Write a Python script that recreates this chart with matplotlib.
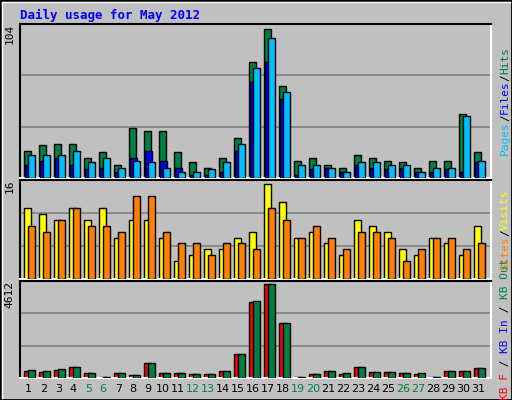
import matplotlib
matplotlib.use("Agg")
import matplotlib.pyplot as plt
from matplotlib.patches import Rectangle
from matplotlib.lines import Line2D

days = list(range(1, 32))
hits = [19,23,24,24,14,18,9,35,33,33,18,11,7,14,28,81,104,64,12,14,9,7,16,14,12,11,7,12,12,45,18]
files = [9,12,14,9,6,7,4,14,19,12,7,2,2,4,19,67,81,55,2,6,7,4,9,7,6,7,4,4,6,4,11]
pages = [16,16,16,19,11,14,7,12,11,7,4,4,6,11,24,77,98,60,9,9,7,4,11,11,9,9,4,7,7,43,12]
visits = [12,11,10,12,10,12,7,10,10,7,3,4,5,5,7,8,16,13,7,8,6,4,10,9,8,5,4,7,6,4,9]
sites = [9,8,10,12,9,9,8,14,14,8,6,6,4,6,6,5,12,10,7,9,7,5,8,8,7,3,5,7,7,5,6]
kb_f = [336,302,386,537,235,67,235,134,738,235,235,184,184,336,1190,3707,4612,2700,67,184,336,184,537,302,302,235,184,67,336,336,487]
kb_out = [386,336,436,537,235,67,235,134,738,235,235,184,184,336,1190,3757,4612,2700,67,184,336,235,537,302,302,235,235,67,336,336,487]
weekend = {5,6,12,13,19,20,26,27}

W, H = 512, 400
fig = plt.figure(figsize=(W/100, H/100), dpi=100)
fig.patch.set_facecolor("#C0C0C0")
BG = "#C0C0C0"
mono = "DejaVu Sans Mono"

fig.add_artist(Rectangle((0, 0), 1, 1, transform=fig.transFigure, fill=False, edgecolor="black", lw=2))
fig.add_artist(Line2D([2/W, 2/W, 1-2/W], [2/H, 1-2/H, 1-2/H], transform=fig.transFigure, color="white", lw=1))

def mkax(top, bot, ymax):
    ax = fig.add_axes([20/W, 1-bot/H, 471/W, (bot-top)/H])
    ax.set_facecolor(BG)
    ax.set_xlim(0.45, 31.85)
    ax.set_ylim(0, ymax)
    for y in (ymax/3, 2*ymax/3):
        ax.axhline(y, color="#808080", lw=1.2, zorder=0)
    ax.set_xticks([]); ax.set_yticks([])
    for s in ("left", "top"):
        ax.spines[s].set_color("black"); ax.spines[s].set_linewidth(1.5)
    for s in ("right", "bottom"):
        ax.spines[s].set_color("white"); ax.spines[s].set_linewidth(1.5)
    return ax

ax1 = mkax(24, 178, 107.5)
ax1.bar([d-0.31 for d in days], hits, width=0.5, align="edge", color="#008040", edgecolor="black", lw=1, zorder=2)
ax1.bar([d-0.22 for d in days], files, width=0.5, align="edge", color="#0000FF", edgecolor="black", lw=1, zorder=3)
ax1.bar([d-0.04 for d in days], pages, width=0.5, align="edge", color="#00C0FF", edgecolor="black", lw=1, zorder=4)

ax2 = mkax(180, 279, 16.7)
ax2.bar([d-0.31 for d in days], visits, width=0.5, align="edge", color="#FFFF00", edgecolor="black", lw=1, zorder=2)
ax2.bar([d-0.04 for d in days], sites, width=0.5, align="edge", color="#FF8000", edgecolor="black", lw=1, zorder=3)

ax3 = mkax(281, 378, 4760)
ax3.bar([d-0.31 for d in days], kb_f, width=0.5, align="edge", color="#FF0000", edgecolor="black", lw=1, zorder=2)
ax3.bar([d-0.04 for d in days], kb_out, width=0.5, align="edge", color="#008040", edgecolor="black", lw=1, zorder=3)

fig.text(20/W, 1-15/H, "Daily usage for May 2012", family=mono, weight="bold", color="#0000FF", fontsize=9, va="center")

for ax, lab in ((ax1, "104"), (ax2, "16"), (ax3, "4612")):
    ax.text(-0.012, 1.0, lab, transform=ax.transAxes, rotation=90, family=mono, fontsize=8, ha="right", va="top")

for d in days:
    ax3.text(d, -0.06, str(d), transform=ax3.get_xaxis_transform(), ha="center", va="top",
             fontsize=8, color="#008040" if d in weekend else "black")

cpx = 8*0.602*100/72
def vlabel(top, bot, pieces):
    total = sum(len(t) for t, c in pieces) * cpx
    y = (top+bot)/2 + total/2
    for t, c in pieces:
        fig.text(505/W, 1-y/H, t, rotation=90, family=mono, fontsize=8, color=c, ha="center", va="bottom")
        y -= len(t)*cpx

vlabel(24, 178, [("Pages", "#00C0FF"), ("/", "black"), ("Files", "#0000FF"), ("/", "black"), ("Hits", "#008040")])
vlabel(180, 279, [("Sites", "#FF8000"), ("/", "black"), ("Visits", "#FFFF00")])
vlabel(281, 378, [("KB F", "#FF0000"), (" / ", "black"), ("KB In", "#0000FF"), (" / ", "black"), ("KB Out", "#008040")])

fig.savefig("out.png", dpi=100, facecolor=fig.get_facecolor())
